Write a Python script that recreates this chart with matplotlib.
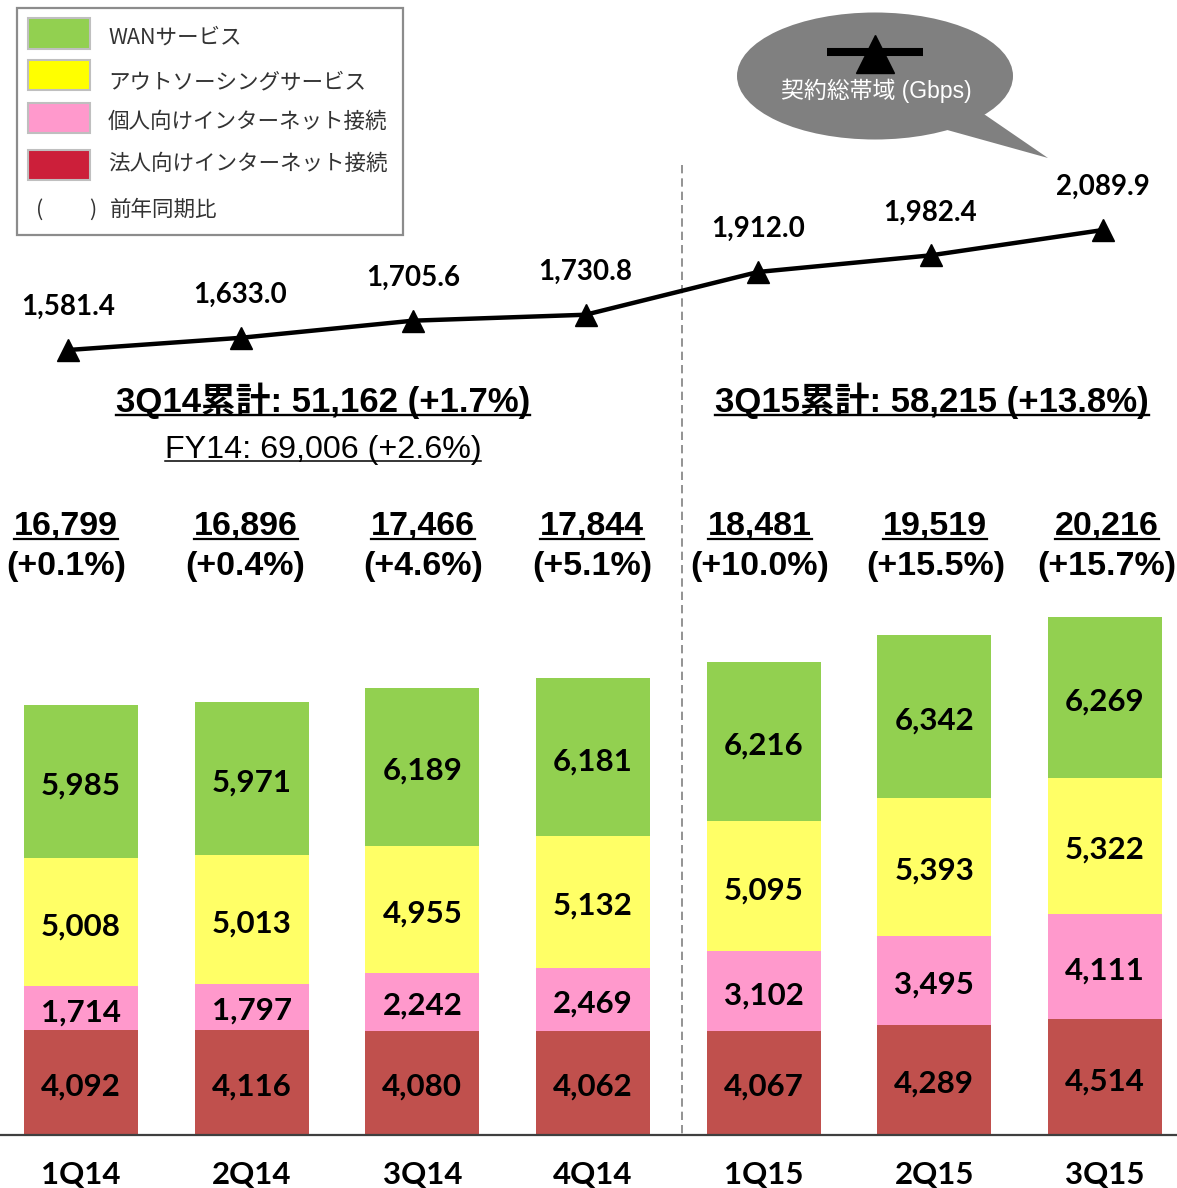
import matplotlib
matplotlib.use('Agg')
import matplotlib.pyplot as plt
import matplotlib.transforms as mtransforms
from matplotlib.patches import Rectangle, Ellipse, Polygon
from matplotlib.lines import Line2D

# ---------------- data ----------------
quarters = ['1Q14', '2Q14', '3Q14', '4Q14', '1Q15', '2Q15', '3Q15']
corp_internet = [4092, 4116, 4080, 4062, 4067, 4289, 4514]
personal_internet = [1714, 1797, 2242, 2469, 3102, 3495, 4111]
outsourcing = [5008, 5013, 4955, 5132, 5095, 5393, 5322]
wan = [5985, 5971, 6189, 6181, 6216, 6342, 6269]
totals = [16799, 16896, 17466, 17844, 18481, 19519, 20216]
yoy = ['+0.1%', '+0.4%', '+4.6%', '+5.1%', '+10.0%', '+15.5%', '+15.7%']
bandwidth = [1581.4, 1633.0, 1705.6, 1730.8, 1912.0, 1982.4, 2089.9]
series_names = ['WANサービス', 'アウトソーシングサービス',
                '個人向けインターネット接続', '法人向けインターネット接続']
cum_labels = ['3Q14累計: 51,162 (+1.7%)', '3Q15累計: 58,215 (+13.8%)']
fy_label = 'FY14: 69,006 (+2.6%)'
yoy_note = '前年同期比'
bubble_label = '契約総帯域 (Gbps)'

# ---------------- style ----------------
C_WAN = '#92D050'
C_OUT = '#FFFF66'
C_PER = '#FF99CC'
C_CORP = '#C0504D'
LEG_COLORS = ['#92D050', '#FFFF00', '#FF99CC', '#CC1F3A']
JP = ['Noto Sans CJK JP']
ARIAL = ['Liberation Sans', 'Noto Sans CJK JP']
NUM = ['Lato', 'DejaVu Sans']

W, H, DPI = 1177, 1188, 100
fig = plt.figure(figsize=(W / DPI, H / DPI), dpi=DPI)
fig.patch.set_facecolor('white')

def fy(py):
    return 1 - py / H

def px2pt(px):
    return px * 72 / DPI

# overlay axes in pixel coordinates (decorations)
ov = fig.add_axes([0, 0, 1, 1], zorder=0)
ov.set_xlim(0, W)
ov.set_ylim(H, 0)
ov.axis('off')

# ---------------- bars ----------------
BASE = 1135
PX_PER_UNIT = 0.02561
BAR0, BAR_STEP = 81, 170.67
ax_top_px = 580
ax = fig.add_axes([0, fy(BASE), 1, (BASE - ax_top_px) / H], zorder=1)
ax.patch.set_visible(False)
ax.set_xlim(-BAR0 / BAR_STEP, (W - BAR0) / BAR_STEP)
ax.set_ylim(0, (BASE - ax_top_px) / PX_PER_UNIT)
ax.axis('off')

x = list(range(len(quarters)))
bw = 114 / BAR_STEP
stack = [(corp_internet, C_CORP), (personal_internet, C_PER),
         (outsourcing, C_OUT), (wan, C_WAN)]
bottom = [0] * len(x)
for vals, col in stack:
    ax.bar(x, vals, width=bw, bottom=bottom, color=col, edgecolor='none')
    for i, v in enumerate(vals):
        ax.annotate(f'{v:,}', (i, bottom[i] + v / 2), xytext=(0, -px2pt(4)),
                    textcoords='offset points', ha='center', va='center',
                    fontsize=22.5, fontweight='bold', family=NUM, color='black')
    bottom = [b + v for b, v in zip(bottom, vals)]

ax.axhline(0, color='#3F3F3F', lw=1.6, clip_on=False)

for i, q in enumerate(quarters):
    ax.annotate(q, (i, 0), xytext=(0, -px2pt(40)), textcoords='offset points',
                ha='center', va='center', fontsize=22.5, fontweight='bold',
                family=NUM, annotation_clip=False)

# totals and yoy above bars
blend = mtransforms.blended_transform_factory(ax.transData, fig.transFigure)
tot_dx = [-15, -6, 1, -1, -4, 1, 2]
underline = []
for i, (t, p) in enumerate(zip(totals, yoy)):
    xi = i + tot_dx[i] / BAR_STEP
    tt = ax.text(xi, fy(527), f'{t:,}', transform=blend, ha='center', va='center',
                 fontsize=24.5, fontweight='bold', family=ARIAL)
    underline.append((tt, 1.6))
    ax.text(xi, fy(567), f'({p})', transform=blend, ha='center', va='center',
            fontsize=24.5, fontweight='bold', family=ARIAL)

# ---------------- line ----------------
L0, L_STEP = 68, 172.5
LP_PER_UNIT = 0.236
l_top, l_bot = 150, 400
lax = fig.add_axes([0, fy(l_bot), 1, (l_bot - l_top) / H], zorder=2)
lax.patch.set_visible(False)
lax.set_xlim(-L0 / L_STEP, (W - L0) / L_STEP)
ref_v, ref_px = bandwidth[0], 350
lax.set_ylim(ref_v - (l_bot - ref_px) / LP_PER_UNIT, ref_v + (ref_px - l_top) / LP_PER_UNIT)
lax.axis('off')
lax.plot(x, bandwidth, color='black', lw=3.2, marker='^', ms=16,
         markerfacecolor='black', markeredgecolor='black', clip_on=False)
for i, v in enumerate(bandwidth):
    lax.annotate(f'{v:,.1f}', (i, v), xytext=(0, px2pt(43)), textcoords='offset points',
                 ha='center', va='center', fontsize=20, fontweight='bold',
                 family=NUM, annotation_clip=False)

# ---------------- headings ----------------
h1 = ov.text(323, 401, cum_labels[0], ha='center', va='center', fontsize=25,
             fontweight='bold', family=ARIAL)
h2 = ov.text(932, 401, cum_labels[1], ha='center', va='center', fontsize=25,
             fontweight='bold', family=ARIAL)
h3 = ov.text(323, 450, fy_label, ha='center', va='center', fontsize=23.2,
             family=ARIAL)
underline += [(h1, 1.7), (h2, 1.7), (h3, 1.1)]

# dashed separator
ov.plot([682, 682], [165, BASE], color='#808080', lw=1.2, ls=(0, (5, 3)))

# ---------------- legend ----------------
ov.add_patch(Rectangle((17, 8), 386, 227, fill=False, edgecolor='#8C8C8C', lw=1.6))
rows = [(18, 31), (60, 30), (103, 30), (150, 30)]
text_y = [38, 82, 122, 164]
for (ry, rh), col, name, ty in zip(rows, LEG_COLORS, series_names, text_y):
    ov.add_patch(Rectangle((28, ry), 62, rh, facecolor=col, edgecolor='#BFBFBF', lw=1.5))
    ov.text(108, ty, name, ha='left', va='center', fontsize=15.5, family=JP,
            color='#333333')
ov.text(40, 210, '(', ha='center', va='center', fontsize=15.5, family=JP, color='#333333')
ov.text(93, 210, ')', ha='center', va='center', fontsize=15.5, family=JP, color='#333333')
ov.text(110, 210, yoy_note, ha='left', va='center', fontsize=15.5, family=JP,
        color='#333333')

# ---------------- speech bubble ----------------
ov.add_patch(Ellipse((875, 76), 276, 127, facecolor='#808080', edgecolor='none'))
ov.add_patch(Polygon([(978, 110), (940, 128), (1048, 158)], closed=True,
                     facecolor='#808080', edgecolor='none'))
ov.plot([827, 923], [52, 52], color='black', lw=5.8, solid_capstyle='butt')
ov.plot([875], [53.5], marker='^', ms=27, color='black')
ov.text(876, 91, bubble_label, ha='center', va='center', fontsize=16.5,
        family=ARIAL, color='white')

# ---------------- underlines ----------------
fig.canvas.draw()
renderer = fig.canvas.get_renderer()
for t, lw in underline:
    bb = t.get_window_extent(renderer)
    fs_px = t.get_fontsize() * DPI / 72
    yy = bb.y0 + 0.11 * fs_px
    fig.add_artist(Line2D([bb.x0 / W, bb.x1 / W], [yy / H, yy / H],
                          transform=fig.transFigure, color='black', lw=lw))

fig.savefig('out.png', dpi=DPI)
